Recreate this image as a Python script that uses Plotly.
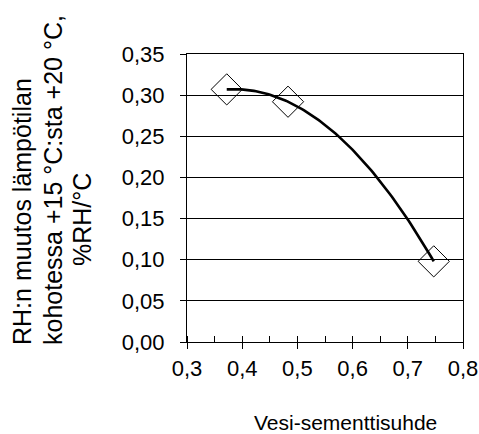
import numpy as np
import plotly.graph_objects as go

# Data
wc_ratio = [0.372, 0.483, 0.747]
rh_change = [0.307, 0.292, 0.098]
x_tickvals = [0.3, 0.4, 0.5, 0.6, 0.7, 0.8]
y_tickvals = [0.0, 0.05, 0.10, 0.15, 0.20, 0.25, 0.30, 0.35]
y_title_lines = ["RH:n muutos lämpötilan", "kohotessa +15 °C:sta +20 °C,", "%RH/°C"]
x_title = "Vesi-sementtisuhde"

# Polynomial (order 2) trendline fitted to the data, as in the original chart
coef = np.polyfit(wc_ratio, rh_change, 2)
trend_x = np.linspace(min(wc_ratio), max(wc_ratio), 100)
trend_y = np.polyval(coef, trend_x)

W, H = 479, 434
L, R, T, B = 187, 16, 54, 92
pw, ph = W - L - R, H - T - B

fig = go.Figure()
fig.add_trace(go.Scatter(x=trend_x, y=trend_y, mode="lines",
                         line=dict(color="black", width=2.6), hoverinfo="skip"))
fig.add_trace(go.Scatter(x=wc_ratio, y=rh_change, mode="markers",
                         marker=dict(symbol="diamond-open", size=24,
                                     color="black", line=dict(width=1, color="black"))))

font = "Liberation Sans, Arial, sans-serif"
fig.update_layout(
    width=W, height=H, margin=dict(l=L, r=R, t=T, b=B, autoexpand=False),
    paper_bgcolor="white", plot_bgcolor="white", showlegend=False,
    separators=", ", font=dict(family=font, color="black"),
    xaxis=dict(range=[0.3, 0.8], tickvals=x_tickvals, tickformat=".1f",
               showgrid=False, zeroline=False, showline=True, linecolor="black",
               linewidth=1, mirror=True, ticks="outside", ticklen=6,
               tickcolor="black", tickfont=dict(size=22, family=font),
               ticklabelstandoff=1, automargin=False,
               minor=dict(ticks="inside", dtick=0.05, tick0=0.3, ticklen=6,
                          tickcolor="black", showgrid=False)),
    yaxis=dict(range=[0, 0.35], tickvals=y_tickvals, tickformat=".2f",
               showgrid=True, gridcolor="black", gridwidth=1, zeroline=False,
               showline=True, linecolor="black", linewidth=1, mirror=True,
               ticks="outside", ticklen=6, tickcolor="black", automargin=False,
               tickfont=dict(size=22, family=font), ticklabelstandoff=11),
)

# Y-axis title lines (rotated)
centers = [(22, 212), (53, 180), (82, 220)]
for txt, (cx, cy) in zip(y_title_lines, centers):
    fig.add_annotation(text=txt, xref="paper", yref="paper",
                       x=(cx - L) / pw, y=(H - B - cy) / ph,
                       xanchor="center", yanchor="middle", textangle=-90,
                       showarrow=False, font=dict(size=25, family=font, color="black"))

fig.add_annotation(text=x_title, xref="paper", yref="paper",
                   x=(345 - L) / pw, y=(H - B - 422) / ph,
                   xanchor="center", yanchor="middle", showarrow=False,
                   font=dict(size=21, family=font, color="black"))

fig.write_html("out.html")
